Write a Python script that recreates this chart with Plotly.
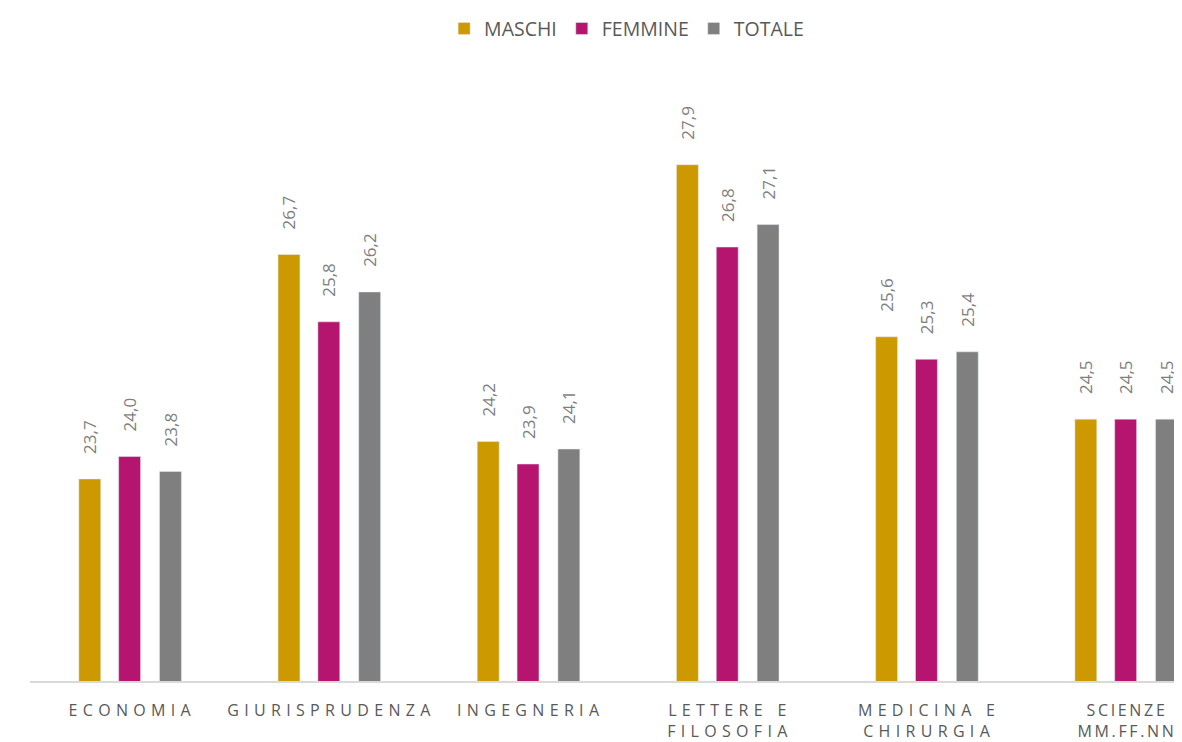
import plotly.graph_objects as go

categories = ["ECONOMIA", "GIURISPRUDENZA", "INGEGNERIA", "LETTERE E<br>FILOSOFIA",
              "MEDICINA E<br>CHIRURGIA", "SCIENZE<br>MM.FF.NN"]
maschi = [23.7, 26.7, 24.2, 27.9, 25.6, 24.5]
femmine = [24.0, 25.8, 23.9, 26.8, 25.3, 24.5]
totale = [23.8, 26.2, 24.1, 27.1, 25.4, 24.5]

series = [("MASCHI", maschi, "#CC9900", -0.255),
          ("FEMMINE", femmine, "#B5146F", -0.055),
          ("TOTALE", totale, "#7F7F7F", 0.15)]


def spaced(s, sep="\u2004"):
    out = []
    for line in s.split("<br>"):
        out.append(sep.join(list(line)))
    return "<br>".join(out)


ticktext = ([spaced(c) for c in categories[:-1]]
            + [spaced(categories[-1], "\u2009")])
xs = list(range(len(categories)))

fig = go.Figure()
for name, vals, color, off in series:
    fig.add_trace(go.Bar(
        x=xs, y=vals, name=name, marker_color=color, width=0.11, offset=off,
        text=vals, texttemplate="\u00a0\u00a0\u00a0\u00a0\u00a0%{y:.1f}", textposition="outside", textangle=-90,
        textfont=dict(size=17, color="#7F7F7F", family="Open Sans"),
        cliponaxis=False,
    ))

fig.update_layout(
    width=1182, height=742,
    margin=dict(l=22, r=0, t=52, b=69),
    plot_bgcolor="white", paper_bgcolor="white",
    separators=",.",
    barmode="overlay",
    showlegend=True,
    uniformtext=dict(minsize=17, mode="show"),
    legend=dict(orientation="h", x=0.357, xanchor="left",
                yref="container", y=0.972, yanchor="middle",
                font=dict(size=19.5, color="#595959", family="Open Sans"),
                itemwidth=30, traceorder="normal"),
    font=dict(family="Open Sans", color="#595959"),
    xaxis=dict(tickvals=xs, ticktext=ticktext, range=[-0.5, 5.323],
               showline=True, linecolor="#D9D9D9", linewidth=1.5,
               showgrid=False, ticks="", zeroline=False, ticklabelstandoff=14,
               tickfont=dict(size=16, color="#595959", family="Open Sans")),
    yaxis=dict(range=[21, 29.3], visible=False, showgrid=False, zeroline=False),
)

fig.write_html("out.html")
